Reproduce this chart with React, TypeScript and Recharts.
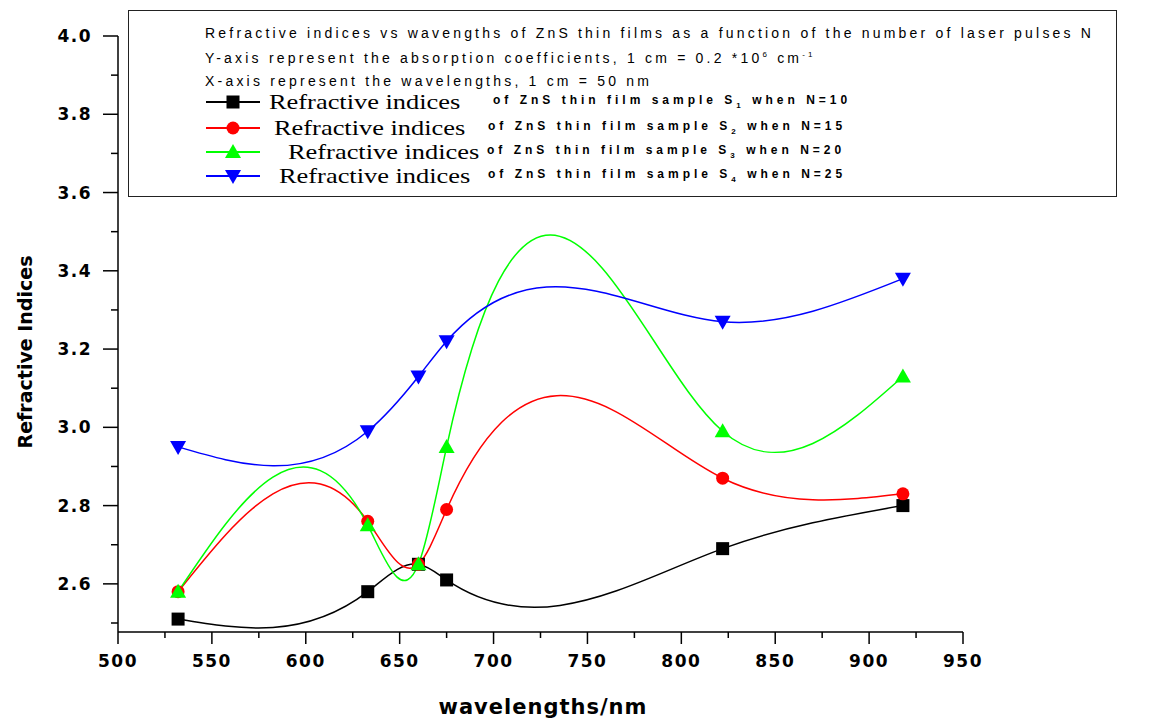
import { LineChart, Line, XAxis, YAxis } from 'recharts'

const wavelengths = [532, 633, 660, 675, 822, 918]
const sampleS1 = [2.51, 2.58, 2.65, 2.61, 2.69, 2.8]
const sampleS2 = [2.58, 2.76, 2.65, 2.79, 2.87, 2.83]
const sampleS3 = [2.58, 2.75, 2.65, 2.95, 2.99, 3.13]
const sampleS4 = [2.95, 2.99, 3.13, 3.22, 3.27, 3.38]

const xTicks = [500, 525, 550, 575, 600, 625, 650, 675, 700, 725, 750, 775, 800, 825, 850, 875, 900, 925, 950]
const xLabels = ['500', '550', '600', '650', '700', '750', '800', '850', '900', '950']
const yTicks = [2.5, 2.6, 2.7, 2.8, 2.9, 3.0, 3.1, 3.2, 3.3, 3.4, 3.5, 3.6, 3.7, 3.8, 3.9, 4.0]
const yLabels = ['2.6', '2.8', '3.0', '3.2', '3.4', '3.6', '3.8', '4.0']

const headerLines = [
  'Refractive indices vs wavengths of ZnS thin films as a function of the number of laser pulses N',
  'Y-axis represent the absorption coefficients, 1 cm = 0.2 *10',
  'X-axis represent the wavelengths, 1 cm = 50 nm',
]

type Shape = 'square' | 'circle' | 'up' | 'down'

const series: { key: string; color: string; shape: Shape; sub: string; n: string; nameX: number; restX: number }[] = [
  { key: 's1', color: '#000000', shape: 'square', sub: '1', n: '10', nameX: 140, restX: 364 },
  { key: 's2', color: '#ff0000', shape: 'circle', sub: '2', n: '15', nameX: 145, restX: 359 },
  { key: 's3', color: '#00ff00', shape: 'up', sub: '3', n: '20', nameX: 159, restX: 358 },
  { key: 's4', color: '#0000ff', shape: 'down', sub: '4', n: '25', nameX: 150, restX: 359 },
]

const data = wavelengths.map((w, i) => ({
  w,
  s1: sampleS1[i],
  s2: sampleS2[i],
  s3: sampleS3[i],
  s4: sampleS4[i],
}))

// natural cubic spline of y as a function of x (Origin-style "Spline" connection)
function splineCurve(context: any) {
  let xs: number[] = []
  let ys: number[] = []
  return {
    areaStart() {},
    areaEnd() {},
    lineStart() {
      xs = []
      ys = []
    },
    point(x: number, y: number) {
      xs.push(+x)
      ys.push(+y)
    },
    lineEnd() {
      const n = xs.length
      if (!n) return
      context.moveTo(xs[0], ys[0])
      if (n < 3) {
        for (let i = 1; i < n; i++) context.lineTo(xs[i], ys[i])
        return
      }
      const h = xs.slice(1).map((x, i) => x - xs[i])
      const m = new Array(n).fill(0)
      const a: number[] = [], b: number[] = [], c: number[] = [], r: number[] = []
      for (let i = 1; i < n - 1; i++) {
        a.push(h[i - 1])
        b.push(2 * (h[i - 1] + h[i]))
        c.push(h[i])
        r.push(6 * ((ys[i + 1] - ys[i]) / h[i] - (ys[i] - ys[i - 1]) / h[i - 1]))
      }
      const k = b.length
      for (let i = 1; i < k; i++) {
        const w = a[i] / b[i - 1]
        b[i] -= w * c[i - 1]
        r[i] -= w * r[i - 1]
      }
      const sol = new Array(k).fill(0)
      sol[k - 1] = r[k - 1] / b[k - 1]
      for (let i = k - 2; i >= 0; i--) sol[i] = (r[i] - c[i] * sol[i + 1]) / b[i]
      for (let i = 0; i < k; i++) m[i + 1] = sol[i]
      for (let i = 0; i < n - 1; i++) {
        const s = (ys[i + 1] - ys[i]) / h[i]
        const d0 = s - (h[i] * (2 * m[i] + m[i + 1])) / 6
        const d1 = s + (h[i] * (m[i] + 2 * m[i + 1])) / 6
        context.bezierCurveTo(
          xs[i] + h[i] / 3,
          ys[i] + (d0 * h[i]) / 3,
          xs[i + 1] - h[i] / 3,
          ys[i + 1] - (d1 * h[i]) / 3,
          xs[i + 1],
          ys[i + 1],
        )
      }
    },
  }
}

const tickFont = { fontFamily: '"DejaVu Sans", sans-serif', fontWeight: 700, fontSize: 17, letterSpacing: 1.5 }

function Marker({ cx, cy, shape, color }: { cx: number; cy: number; shape: Shape; color: string }) {
  if (cx == null || cy == null) return null
  if (shape === 'square') return <rect x={cx - 6.5} y={cy - 6.5} width={13} height={13} fill={color} />
  if (shape === 'circle') return <circle cx={cx} cy={cy} r={6.5} fill={color} />
  if (shape === 'up')
    return <polygon points={`${cx},${cy - 8} ${cx - 8},${cy + 6} ${cx + 8},${cy + 6}`} fill={color} />
  return <polygon points={`${cx},${cy + 8} ${cx - 8},${cy - 6} ${cx + 8},${cy - 6}`} fill={color} />
}

function YTick(props: any) {
  const { x, y, payload } = props
  const label = Number(payload.value).toFixed(1)
  const major = yLabels.includes(label)
  return (
    <g>
      <line x1={x - (major ? 15 : 7)} x2={x} y1={y} y2={y} stroke="#000" strokeWidth={1.5} />
      {major && (
        <text x={x - 26} y={y} textAnchor="end" dominantBaseline="central" {...tickFont}>
          {label}
        </text>
      )}
    </g>
  )
}

function XTick(props: any) {
  const { x, y, payload } = props
  const label = String(payload.value)
  const major = xLabels.includes(label)
  return (
    <g>
      <line x1={x} x2={x} y1={y} y2={y + (major ? 12 : 6)} stroke="#000" strokeWidth={1.5} />
      {major && (
        <text x={x} y={y + 29} textAnchor="middle" dominantBaseline="central" {...tickFont}>
          {label}
        </text>
      )}
    </g>
  )
}

function LegendSymbol({ shape, color }: { shape: Shape; color: string }) {
  return (
    <svg width={54} height={16} style={{ position: 'absolute', left: 77, top: -8 }}>
      <line x1={0} x2={54} y1={8} y2={8} stroke={color} strokeWidth={2} />
      <Marker cx={27} cy={8} shape={shape} color={color} />
    </svg>
  )
}

const headerText: React.CSSProperties = {
  position: 'absolute',
  fontFamily: '"Liberation Sans", Arial, sans-serif',
  fontSize: 14,
  letterSpacing: 3.2,
  whiteSpace: 'nowrap',
  lineHeight: 1,
  transform: 'translateY(-50%)',
}

const rowText: React.CSSProperties = {
  ...headerText,
  fontSize: 12,
  fontWeight: 700,
  letterSpacing: 4,
}

export default function App() {
  const rowY = [91, 117, 141, 165]
  return (
    <div style={{ position: 'relative', width: 1153, height: 711, background: '#fff' }}>
      <LineChart width={1153} height={711} data={data} margin={{ top: 28, right: 198, bottom: 47, left: 50 }}>
        <XAxis
          dataKey="w"
          type="number"
          domain={[500, 950]}
          ticks={xTicks}
          interval={0}
          tickSize={0}
          tickMargin={0}
          tickLine={false}
          tick={<XTick />}
          stroke="#000"
          strokeWidth={1.5}
          height={40}
          label={() => (
            <text
              x={535}
              y={699}
              textAnchor="middle"
              dominantBaseline="central"
              fontFamily='"DejaVu Sans", sans-serif'
              fontWeight={700}
              fontSize={21}
              letterSpacing={1}
            >
              wavelengths/nm
            </text>
          )}
        />
        <YAxis
          type="number"
          domain={[2.477, 4]}
          ticks={yTicks}
          interval={0}
          tickSize={0}
          tickMargin={0}
          tickLine={false}
          tick={<YTick />}
          stroke="#000"
          strokeWidth={1.5}
          width={60}
          allowDataOverflow
          label={() => (
            <text
              x={17}
              y={344}
              transform="rotate(-90, 17, 344)"
              textAnchor="middle"
              dominantBaseline="central"
              fontFamily='"DejaVu Sans", sans-serif'
              fontWeight={700}
              fontSize={19}
            >
              Refractive Indices
            </text>
          )}
        />
        {series.map((s) => (
          <Line
            key={s.key}
            dataKey={s.key}
            type={splineCurve as any}
            stroke={s.color}
            strokeWidth={1.5}
            isAnimationActive={false}
            dot={(p: any) => <Marker key={`${s.key}-${p.index}`} cx={p.cx} cy={p.cy} shape={s.shape} color={s.color} />}
            activeDot={false}
          />
        ))}
      </LineChart>
      <div
        style={{
          position: 'absolute',
          left: 120,
          top: 2,
          width: 989,
          height: 187,
          border: '1px solid #222',
          background: '#fff',
          boxSizing: 'border-box',
        }}
      >
        <div style={{ ...headerText, left: 76, top: 22 }}>{headerLines[0]}</div>
        <div style={{ ...headerText, left: 76, top: 47 }}>
          {headerLines[1]}
          <sup style={{ fontSize: 8 }}>6</sup> cm<sup style={{ fontSize: 8 }}>-1</sup>
        </div>
        <div style={{ ...headerText, left: 76, top: 70 }}>{headerLines[2]}</div>
        {series.map((s, i) => (
          <div key={s.key} style={{ position: 'absolute', left: 0, top: rowY[i] }}>
            <LegendSymbol shape={s.shape} color={s.color} />
            <div
              style={{
                position: 'absolute',
                left: s.nameX,
                top: 0,
                transform: 'translateY(-50%) scaleX(1.2)',
                transformOrigin: 'left center',
                fontFamily: '"Liberation Serif", "Times New Roman", serif',
                fontSize: 22,
                lineHeight: 1,
                whiteSpace: 'nowrap',
              }}
            >
              Refractive indices
            </div>
            <div style={{ ...rowText, left: s.restX, top: 0 }}>
              of ZnS thin film sample S<sub style={{ fontSize: 8 }}>{s.sub}</sub> when N={s.n}
            </div>
          </div>
        ))}
      </div>
    </div>
  )
}
